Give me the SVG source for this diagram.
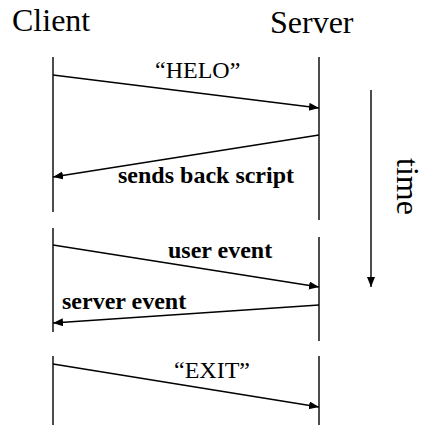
<svg xmlns="http://www.w3.org/2000/svg" width="425" height="425" viewBox="0 0 425 425">
<style>
text{font-family:'Liberation Serif','Times New Roman',Times,serif;fill:#000}
.h{font-size:32px}
.m{font-size:24px}
.b{font-size:24px;font-weight:bold}
.l{stroke:#000;stroke-width:1.4;fill:none}
.a{stroke:#000;stroke-width:1.4;fill:none;marker-end:url(#ah)}
</style>
<defs>
<marker id="ah" markerUnits="userSpaceOnUse" markerWidth="11" markerHeight="9" refX="10" refY="4" orient="auto">
<path d="M0,0 L10,4 L0,8 z" fill="#000"/>
</marker>
</defs>
<rect width="425" height="425" fill="#fff"/>
<g id="client">
<text class="h" x="12" y="31">Client</text>
<line class="l" x1="53" y1="57" x2="53" y2="212"/>
<line class="l" x1="53" y1="228" x2="53" y2="332"/>
<line class="l" x1="53" y1="356" x2="53" y2="425"/>
</g>
<g id="server">
<text class="h" x="270" y="33">Server</text>
<line class="l" x1="319" y1="57" x2="319" y2="220"/>
<line class="l" x1="319" y1="237" x2="319" y2="341"/>
<line class="l" x1="319" y1="356" x2="319" y2="425"/>
</g>
<g id="time">
<line class="a" x1="371" y1="90" x2="371" y2="287"/>
<text class="h" transform="translate(397,158) rotate(90)">time</text>
</g>
<g id="connectors">
<line class="a" x1="53" y1="75" x2="319" y2="108"/>
<line class="a" x1="319" y1="135" x2="53" y2="177"/>
<line class="a" x1="53" y1="245" x2="319" y2="287"/>
<line class="a" x1="319" y1="305" x2="53" y2="323"/>
<line class="a" x1="53" y1="364" x2="319" y2="407"/>
</g>
<g id="labels">
<text class="m" x="155" y="78">“HELO”</text>
<text class="b" x="118" y="183">sends back script</text>
<text class="b" x="168" y="258">user event</text>
<text class="b" x="62" y="309">server event</text>
<text class="m" x="174" y="378">“EXIT”</text>
</g>
</svg>
